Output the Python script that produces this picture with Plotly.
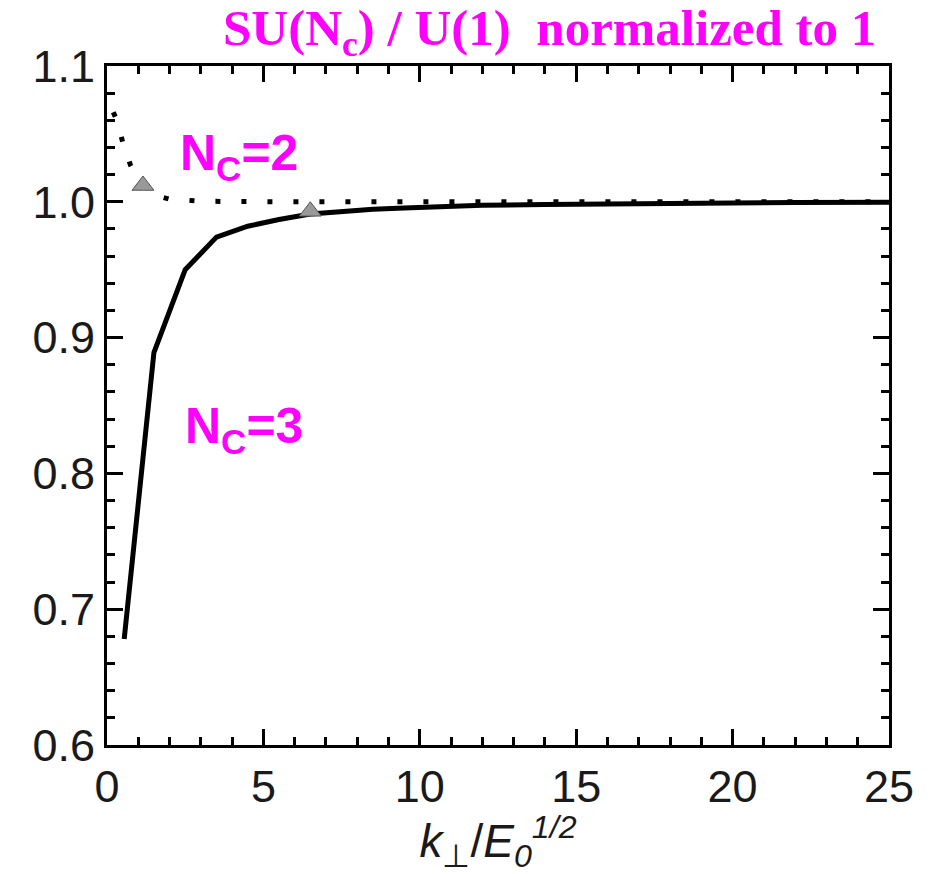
import plotly.graph_objects as go

# Nc = 3 (solid)
x3 = [0.55, 1.5, 2.5, 3.5, 4.5, 5.5, 6.5, 7.5, 8.5, 9.5, 10.5, 12, 14, 16, 18, 20, 22, 25]
y3 = [0.678, 0.889, 0.950, 0.974, 0.982, 0.987, 0.991, 0.993, 0.9945, 0.9955, 0.9965, 0.9975, 0.998, 0.9985, 0.999, 0.9992, 0.9995, 0.9997]

# Nc = 2 (dotted)
x2 = [0.2, 0.35, 0.5, 0.75, 1.0, 1.25, 1.5, 1.75, 2.0, 2.5, 3.0, 4.0, 5.0, 7.0, 10.0, 15.0, 20.0, 25.0]
y2 = [1.066, 1.058, 1.044, 1.027, 1.016, 1.010, 1.006, 1.0035, 1.002, 1.001, 1.0005, 1.0002, 1.0, 1.0, 1.0, 1.0, 1.0, 1.0]

# markers
xm = [1.15, 6.5]
ym = [1.012, 0.993]

x_ticks = [0, 5, 10, 15, 20, 25]
y_ticks = [0.6, 0.7, 0.8, 0.9, 1.0, 1.1]
y_ticktext = ["0.6", "0.7", "0.8", "0.9", "1.0", "1.1"]

fig = go.Figure()
fig.add_trace(go.Scatter(x=x2, y=y2, mode="lines",
                         line=dict(color="black", width=5, dash="5px,21px"),
                         showlegend=False))
fig.add_trace(go.Scatter(x=x3, y=y3, mode="lines",
                         line=dict(color="black", width=5),
                         showlegend=False))
fig.add_trace(go.Scatter(x=xm, y=ym, mode="markers",
                         marker=dict(symbol="triangle-up", size=19, color="#999999",
                                     line=dict(color="#555555", width=1)),
                         showlegend=False))

axis_common = dict(showline=True, linecolor="black", linewidth=3, mirror="allticks",
                   ticks="inside", ticklen=16, tickwidth=3, tickcolor="black",
                   showgrid=False, zeroline=False,
                   tickfont=dict(family="Liberation Sans", size=45, color="#1a1a1a"))

fig.update_xaxes(range=[0, 25], tickvals=x_ticks,
                 minor=dict(ticks="inside", ticklen=8, tickwidth=3, dtick=1, tick0=0, tickcolor="black"),
                 title=dict(text="<i>k</i><sub>⊥</sub>/<i>E</i><sub><i>0</i></sub><sup><i>1/2</i></sup>",
                            font=dict(family="Liberation Sans", size=46, color="#1a1a1a"), standoff=4),
                 **axis_common)
fig.update_yaxes(range=[0.6, 1.1], tickvals=y_ticks, ticktext=y_ticktext,
                 minor=dict(ticks="inside", ticklen=8, tickwidth=3, dtick=0.02, tick0=0.6, tickcolor="black"),
                 **axis_common)

fig.add_annotation(xref="paper", yref="paper", x=0.566, y=1.0, yshift=34, xanchor="center", yanchor="middle",
                   text="<b>SU(N<sub>c</sub>) / U(1)  normalized to 1</b>", showarrow=False,
                   font=dict(family="Liberation Serif", size=51, color="#ff00ff"))
fig.add_annotation(x=2.27, y=1.033, xanchor="left", yanchor="middle",
                   text="<b>N<sub>C</sub>=2</b>", showarrow=False,
                   font=dict(family="Liberation Sans", size=50, color="#ff00ff"))
fig.add_annotation(x=2.43, y=0.832, xanchor="left", yanchor="middle",
                   text="<b>N<sub>C</sub>=3</b>", showarrow=False,
                   font=dict(family="Liberation Sans", size=50, color="#ff00ff"))

fig.update_layout(width=937, height=874, margin=dict(l=107, r=48, t=66, b=129),
                  plot_bgcolor="white", paper_bgcolor="white")

fig.write_html("out.html")
